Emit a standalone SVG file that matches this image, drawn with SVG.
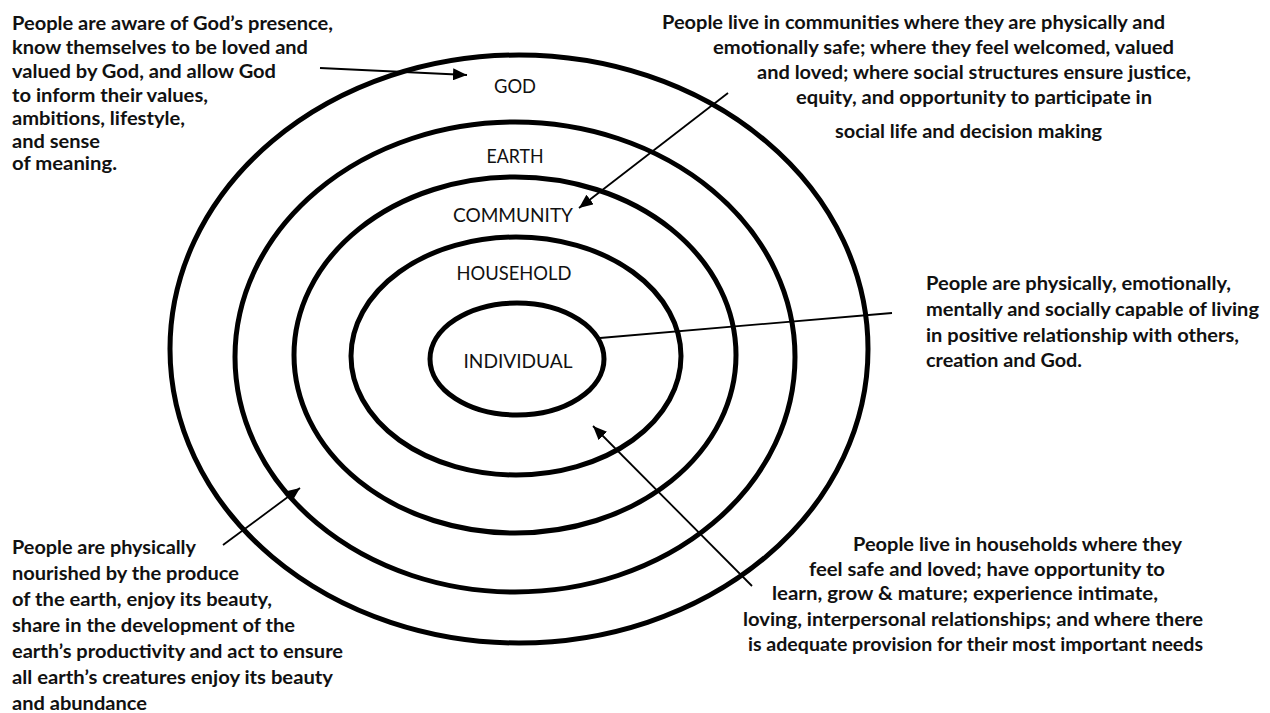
<svg xmlns="http://www.w3.org/2000/svg" width="1270" height="713" viewBox="0 0 1270 713">
<style>
.ring{fill:none;stroke:#000;stroke-width:5}
.lbl{font-family:Lato,"Liberation Sans",sans-serif;font-size:19px;font-weight:400;fill:#111;text-anchor:middle}
.txt{font-family:Lato,"Liberation Sans",sans-serif;font-size:18.5px;font-weight:700;fill:#111}
.con{fill:none;stroke:#000;stroke-width:1.8}
</style>
<defs>
<marker id="ah" markerUnits="userSpaceOnUse" markerWidth="16" markerHeight="12" refX="14" refY="6" orient="auto">
<path d="M0,0 L14,6 L0,12 Z" fill="#000"/>
</marker>
</defs>
<rect width="1270" height="713" fill="#fff"/>
<g id="god"><ellipse class="ring" cx="519" cy="349" rx="349" ry="294"/><text class="lbl" x="515" y="93" textLength="42" lengthAdjust="spacingAndGlyphs">GOD</text></g>
<g id="earth"><ellipse class="ring" cx="515" cy="357" rx="280" ry="235"/><text class="lbl" x="515" y="163" textLength="57" lengthAdjust="spacingAndGlyphs">EARTH</text></g>
<g id="community"><ellipse class="ring" cx="515" cy="355" rx="221" ry="178"/><text class="lbl" x="513" y="222" textLength="120" lengthAdjust="spacingAndGlyphs">COMMUNITY</text></g>
<g id="household"><ellipse class="ring" cx="516" cy="356" rx="165" ry="119"/><text class="lbl" x="514" y="280" textLength="115" lengthAdjust="spacingAndGlyphs">HOUSEHOLD</text></g>
<g id="individual"><ellipse class="ring" cx="517" cy="359" rx="87" ry="56"/><text class="lbl" x="518" y="368" textLength="109" lengthAdjust="spacingAndGlyphs">INDIVIDUAL</text></g>
<g id="note-god">
<text class="txt" x="12" y="30" textLength="321" lengthAdjust="spacingAndGlyphs">People are aware of God’s presence,</text>
<text class="txt" x="12" y="54" textLength="296" lengthAdjust="spacingAndGlyphs">know themselves to be loved and</text>
<text class="txt" x="12" y="78" textLength="264" lengthAdjust="spacingAndGlyphs">valued by God, and allow God</text>
<text class="txt" x="12" y="101.5" textLength="196" lengthAdjust="spacingAndGlyphs">to inform their values,</text>
<text class="txt" x="12" y="124.5" textLength="173" lengthAdjust="spacingAndGlyphs">ambitions, lifestyle,</text>
<text class="txt" x="12" y="147.5" textLength="88" lengthAdjust="spacingAndGlyphs">and sense</text>
<text class="txt" x="12" y="170" textLength="105" lengthAdjust="spacingAndGlyphs">of meaning.</text>
</g>
<g id="note-community">
<text class="txt" x="662" y="29" textLength="503" lengthAdjust="spacingAndGlyphs">People live in communities where they are physically and</text>
<text class="txt" x="713" y="54" textLength="461" lengthAdjust="spacingAndGlyphs">emotionally safe; where they feel welcomed, valued</text>
<text class="txt" x="757" y="79" textLength="434" lengthAdjust="spacingAndGlyphs">and loved; where social structures ensure justice,</text>
<text class="txt" x="796" y="104" textLength="356" lengthAdjust="spacingAndGlyphs">equity, and opportunity to participate in</text>
<text class="txt" x="835" y="138" textLength="267" lengthAdjust="spacingAndGlyphs">social life and decision making</text>
</g>
<g id="note-individual">
<text class="txt" x="926" y="290" textLength="305" lengthAdjust="spacingAndGlyphs">People are physically, emotionally,</text>
<text class="txt" x="926" y="316" textLength="333" lengthAdjust="spacingAndGlyphs">mentally and socially capable of living</text>
<text class="txt" x="926" y="342" textLength="313" lengthAdjust="spacingAndGlyphs">in positive relationship with others,</text>
<text class="txt" x="926" y="367" textLength="156" lengthAdjust="spacingAndGlyphs">creation and God.</text>
</g>
<g id="note-earth">
<text class="txt" x="12" y="554" textLength="184" lengthAdjust="spacingAndGlyphs">People are physically</text>
<text class="txt" x="12" y="580" textLength="227" lengthAdjust="spacingAndGlyphs">nourished by the produce</text>
<text class="txt" x="12" y="606" textLength="260" lengthAdjust="spacingAndGlyphs">of the earth, enjoy its beauty,</text>
<text class="txt" x="12" y="632" textLength="283" lengthAdjust="spacingAndGlyphs">share in the development of the</text>
<text class="txt" x="12" y="658" textLength="331" lengthAdjust="spacingAndGlyphs">earth’s productivity and act to ensure</text>
<text class="txt" x="12" y="684" textLength="321" lengthAdjust="spacingAndGlyphs">all earth’s creatures enjoy its beauty</text>
<text class="txt" x="12" y="710" textLength="135" lengthAdjust="spacingAndGlyphs">and abundance</text>
</g>
<g id="note-household">
<text class="txt" x="853" y="551" textLength="329" lengthAdjust="spacingAndGlyphs">People live in households where they</text>
<text class="txt" x="809" y="576" textLength="356" lengthAdjust="spacingAndGlyphs">feel safe and loved; have opportunity to</text>
<text class="txt" x="772" y="600" textLength="386" lengthAdjust="spacingAndGlyphs">learn, grow &amp; mature; experience intimate,</text>
<text class="txt" x="743" y="626" textLength="460" lengthAdjust="spacingAndGlyphs">loving, interpersonal relationships; and where there</text>
<text class="txt" x="748" y="651" textLength="455" lengthAdjust="spacingAndGlyphs">is adequate provision for their most important needs</text>
</g>
<g id="connectors">
<line class="con" x1="320" y1="68" x2="467" y2="75" marker-end="url(#ah)"/>
<line class="con" x1="728" y1="93" x2="579" y2="208" marker-end="url(#ah)"/>
<line class="con" x1="600" y1="338" x2="892" y2="313"/>
<line class="con" x1="752" y1="586" x2="593" y2="426" marker-end="url(#ah)"/>
<line class="con" x1="223" y1="545" x2="300" y2="488" marker-end="url(#ah)"/>
</g>
</svg>
